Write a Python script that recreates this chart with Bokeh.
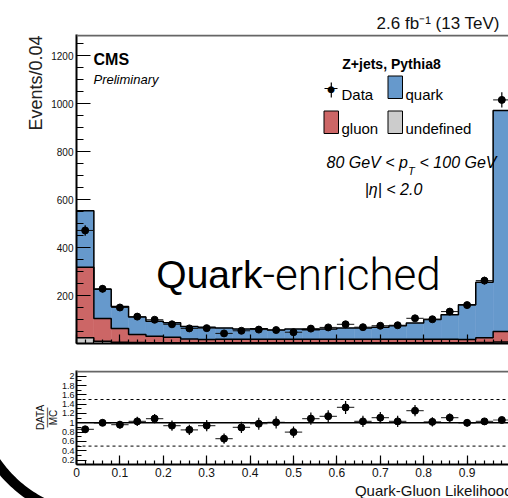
import urllib.parse
import numpy as np
from bokeh.plotting import figure
from bokeh.layouts import column
from bokeh.models import (Range1d, FixedTicker, Label, Span, BoxAnnotation,
                          Title, CustomJSTickFormatter)
from bokeh.embed import file_html
from bokeh.resources import INLINE

# ---- binning and yields (Z+jets, 80 < pT < 100 GeV, |eta| < 2.0) ----
bin_edges = [0.00, 0.04, 0.08, 0.12, 0.16, 0.20, 0.24, 0.28, 0.32, 0.36, 0.40,
             0.44, 0.48, 0.52, 0.56, 0.60, 0.64, 0.68, 0.72, 0.76, 0.80,
             0.84, 0.88, 0.92, 0.96, 1.00]
undefined_mc = [24, 9, 5, 4, 3, 3, 3, 3, 3, 3, 3, 3, 3, 3, 3, 3, 3, 3, 3, 3,
                3, 3, 3, 4, 6]
gluon_mc = [294, 95, 57, 33, 27, 23, 16, 14, 15, 15, 15, 15, 15, 15, 15, 15,
            15, 15, 15, 15, 15, 15, 14, 20, 44]
quark_mc = [235, 122, 92, 73, 63, 60, 52, 51, 47, 42, 43, 38, 42, 39, 42, 47,
            47, 50, 56, 67, 82, 102, 144, 231, 921]
data_counts = [471, 228, 150, 112, 99, 80, 63, 64, 42, 53, 58, 56, 47, 62, 67,
               80, 68, 74, 76, 105, 101, 133, 160, 262, 1015]
data_errors = [22, 15, 12, 11, 10, 9, 8, 8, 7, 7, 8, 7, 7, 8, 8, 9, 8, 9, 9,
               10, 10, 12, 13, 16, 32]
ratio_values = [0.86, 1.00, 0.96, 1.03, 1.09, 0.94, 0.85, 0.94, 0.66, 0.90,
                0.98, 1.01, 0.80, 1.09, 1.14, 1.33, 1.03, 1.11, 1.03, 1.26,
                1.02, 1.11, 1.00, 1.03, 1.06]
ratio_errors = [0.05, 0.07, 0.08, 0.10, 0.10, 0.11, 0.11, 0.12, 0.11, 0.12,
                0.13, 0.13, 0.12, 0.13, 0.13, 0.14, 0.12, 0.12, 0.12, 0.12,
                0.10, 0.09, 0.08, 0.06, 0.04]

x_major_ticks = [0.0, 0.1, 0.2, 0.3, 0.4, 0.5, 0.6, 0.7, 0.8, 0.9, 1.0]
main_y_ticks = [200, 400, 600, 800, 1000, 1200]
ratio_y_ticks = [0.2, 0.4, 0.6, 0.8, 1.0, 1.2, 1.4, 1.6, 1.8, 2.0]

BLUE = "#6699cc"
RED = "#cc6666"
GRAY = "#cccccc"
FONT = "Liberation Sans"

# ---- page geometry (pixels) ----
W = 508
LEFT = 76          # frame left edge
PX_PER_X = 434     # pixels per unit of likelihood
MAIN_H = 352
MAIN_TOP = 34
MAIN_BOTTOM = 343
PX_PER_EVT = 0.24
RATIO_H = 146
RATIO_TOP = 370
RATIO_BOTTOM = 464
RATIO_ONE = 422.3
PX_PER_RATIO = 46.6

x_end = (W - LEFT) / PX_PER_X
EMPTY = CustomJSTickFormatter(code="return '';")
ROUNDED = "return String(Math.round(tick * 10) / 10);"


def main_x(px):
    return (px - LEFT) / PX_PER_X


def main_y(py):
    return (MAIN_BOTTOM - py) / PX_PER_EVT


def ratio_y(py):
    return 1 + (RATIO_ONE - py) / PX_PER_RATIO


def text(fig, x, y, s, size, style="normal", align="left",
         baseline="alphabetic", font=FONT, color="black"):
    fig.add_layout(Label(x=x, y=y, text=s, text_font=font,
                         text_font_size=f"{size}px", text_font_style=style,
                         text_align=align, text_baseline=baseline,
                         text_color=color))


def box(fig, x0, x1, y0, y1, fill, line="black", width=1.0):
    fig.add_layout(BoxAnnotation(left=x0, right=x1, bottom=y0, top=y1,
                                 fill_color=fill, fill_alpha=1.0,
                                 line_color=line, line_width=width,
                                 line_alpha=1.0))


def style_axes(fig, xlabels, ytick_in, yminor_in, ylabel_size, top_px):
    fig.xgrid.visible = False
    fig.ygrid.visible = False
    fig.outline_line_color = None
    xa = fig.xaxis[0]
    xa.ticker = FixedTicker(ticks=x_major_ticks,
                            minor_ticks=[i * 0.02 for i in range(51)])
    xa.major_tick_in = 9
    xa.major_tick_out = 0
    xa.minor_tick_in = 4
    xa.minor_tick_out = 0
    xa.axis_line_width = 2
    xa.major_tick_line_width = 1.2
    xa.minor_tick_line_width = 1.2
    if xlabels:
        xa.formatter = CustomJSTickFormatter(code=ROUNDED)
        xa.major_label_text_font = FONT
        xa.major_label_text_font_size = "12px"
        xa.major_label_standoff = 3
        xa.major_label_text_color = "#111111"
    else:
        xa.formatter = EMPTY
        xa.major_label_text_font_size = "1px"
        xa.major_label_standoff = 0
    ya = fig.yaxis[0]
    ya.major_tick_in = ytick_in
    ya.major_tick_out = 0
    ya.minor_tick_in = yminor_in
    ya.minor_tick_out = 0
    ya.axis_line_width = 2
    ya.major_tick_line_width = 1.2
    ya.minor_tick_line_width = 1.2
    ya.major_label_text_font = FONT
    ya.major_label_text_font_size = ylabel_size
    ya.major_label_standoff = 3
    ya.major_label_text_color = "#111111"
    # grey upper edge of the frame
    fig.add_layout(Span(location=top_px, dimension="width",
                        line_color="#666666", line_width=2))


edges = np.array(bin_edges)
lo, hi = edges[:-1], edges[1:]
centers = (lo + hi) / 2
und = np.array(undefined_mc, dtype=float)
glu = np.array(gluon_mc, dtype=float)
qua = np.array(quark_mc, dtype=float)
data = np.array(data_counts, dtype=float)
derr = np.array(data_errors, dtype=float)
rat = np.array(ratio_values)
rerr = np.array(ratio_errors)

stack_und = und
stack_glu = und + glu
stack_qua = und + glu + qua

# ---- main panel ----
main = figure(width=W, height=MAIN_H, output_backend="svg",
              toolbar_location=None,
              x_range=Range1d(0, x_end),
              y_range=Range1d(0, (MAIN_BOTTOM - MAIN_TOP) / PX_PER_EVT),
              min_border_left=LEFT, min_border_right=0,
              min_border_top=MAIN_TOP, min_border_bottom=MAIN_H - MAIN_BOTTOM)
main.background_fill_color = "white"
main.border_fill_color = "white"

for bottom, top, color in ((0, stack_und, GRAY), (stack_und, stack_glu, RED),
                           (stack_glu, stack_qua, BLUE)):
    main.quad(left=lo, right=hi, bottom=bottom, top=top, fill_color=color,
              line_color=color, line_width=0.5)
for top in (stack_und, stack_glu, stack_qua):
    main.step(x=edges, y=np.append(top, top[-1]), mode="after",
              line_color="black", line_width=1.5)

main.segment(x0=lo, x1=hi, y0=data, y1=data, line_color="#111111",
             line_width=1)
main.segment(x0=centers, x1=centers, y0=data - derr, y1=data + derr,
             line_color="black", line_width=1.2)
main.scatter(centers, data, size=7, fill_color="black", line_color="black")

main.yaxis[0].ticker = FixedTicker(ticks=main_y_ticks,
                                   minor_ticks=[i * 50 for i in range(27)])
style_axes(main, False, 14, 7, "10px", main_y(MAIN_TOP + 1))

main.add_layout(Title(text="2.6 fb\u207b\u00b9  (13 TeV)", align="right",
                      text_font=FONT, text_font_size="17px",
                      text_font_style="normal", text_color="#111111",
                      standoff=4, offset=4),
                "above")
main.add_layout(Title(text="Events/0.04", align="right", text_font=FONT,
                      text_font_size="18px", text_font_style="normal",
                      text_color="#222222", standoff=6, offset=1), "left")

text(main, main_x(93), main_y(59), "CMS", 16, style="bold")
text(main, main_x(93), main_y(79), "Preliminary", 13, style="italic")
text(main, main_x(391), main_y(63), "Z+jets, Pythia8", 14, style="bold",
     align="center")

# legend
box(main, main_x(330.2), main_x(331.4), main_y(97), main_y(82), "black",
    line=None)
box(main, main_x(324), main_x(337), main_y(88.6), main_y(87.6), "black",
    line=None)
text(main, main_x(330.8), main_y(88), "\u25cf", 9, align="center",
     baseline="middle", font="DejaVu Sans")
text(main, main_x(341), main_y(94), "Data", 15)
box(main, main_x(387.5), main_x(402), main_y(98), main_y(75.5), BLUE)
text(main, main_x(405), main_y(94), "quark", 15)
box(main, main_x(323.5), main_x(338), main_y(133), main_y(110.5), RED)
text(main, main_x(341), main_y(128), "gluon", 15)
box(main, main_x(387.5), main_x(402), main_y(133), main_y(110.5), GRAY)
text(main, main_x(405), main_y(128), "undefined", 15)

text(main, main_x(326), main_y(162), "80 GeV < p", 16, style="italic")
text(main, main_x(407.5), main_y(170), "T", 11, style="italic")
text(main, main_x(496), main_y(162), "< 100 GeV", 16, style="italic",
     align="right")
text(main, main_x(393), main_y(189), "|\u03b7| < 2.0", 16, style="italic",
     align="center")

text(main, main_x(262), main_y(274), "Quark", 39, align="right")
text(main, main_x(262), main_y(274), "-enriched", 44, align="left",
     font="Roboto Light")

# ---- ratio panel ----
# dark curved stroke in the lower-left corner, painted behind the canvas
theta = np.linspace(np.radians(100), np.radians(172), 60)
cx, cy, r_out, r_in = 100.0, 390.0 - MAIN_H, 131.5, 121.5
ox = cx + r_out * np.cos(theta)
oy = cy + r_out * np.sin(theta)
ix = cx + r_in * np.cos(theta[::-1])
iy = cy + r_in * np.sin(theta[::-1])
pts = " ".join(f"{a:.1f},{b:.1f}" for a, b in
               zip(np.concatenate([ox, ix]), np.concatenate([oy, iy])))
stroke_svg = (f"<svg xmlns='http://www.w3.org/2000/svg' width='{W}' "
              f"height='{RATIO_H}'><polygon points='{pts}' fill='black'/>"
              "</svg>")
stroke_url = "data:image/svg+xml;charset=utf8," + urllib.parse.quote(stroke_svg)

ratio = figure(width=W, height=RATIO_H, output_backend="svg",
               toolbar_location=None,
               x_range=main.x_range,
               y_range=Range1d(ratio_y(RATIO_BOTTOM), ratio_y(RATIO_TOP)),
               min_border_left=LEFT, min_border_right=0,
               min_border_top=RATIO_TOP - MAIN_H,
               min_border_bottom=MAIN_H + RATIO_H - RATIO_BOTTOM,
               styles={"background-color": "white",
                       "background-image": f'url("{stroke_url}")',
                       "background-repeat": "no-repeat",
                       "background-position": "0px 0px"})
ratio.background_fill_color = "white"
ratio.border_fill_color = None

ratio.add_layout(Span(location=1.0, dimension="width", line_color="black",
                      line_width=1.5))
for loc in (0.5, 1.5):
    ratio.add_layout(Span(location=loc, dimension="width", line_color="black",
                          line_width=1, line_dash="3 3"))

ratio.segment(x0=lo, x1=hi, y0=rat, y1=rat, line_color="#444444",
              line_width=1.2)
ratio.segment(x0=centers, x1=centers, y0=rat - rerr, y1=rat + rerr,
              line_color="black", line_width=1.2)
ratio.scatter(centers, rat, size=7, fill_color="black", line_color="black")

ratio.yaxis[0].ticker = FixedTicker(
    ticks=ratio_y_ticks, minor_ticks=[round(0.1 * i, 1) for i in range(1, 22)])
ratio.yaxis[0].formatter = CustomJSTickFormatter(code=ROUNDED)
style_axes(ratio, True, 10, 5, "9px", ratio_y(RATIO_TOP + 1))

# DATA over MC, written as a stacked fraction
ry = ratio.yaxis[0]
ry.major_label_standoff = 2
ry.axis_label = "DATA\n\u2014\u2014\nMC"
ry.axis_label_text_font = FONT
ry.axis_label_text_font_size = "10px"
ry.axis_label_text_font_style = "normal"
ry.axis_label_text_color = "#111111"
ry.axis_label_text_line_height = 0.6
ry.axis_label_standoff = 0

ratio.add_layout(Title(text="Quark-Gluon Likelihood", align="right",
                       text_font=FONT, text_font_size="15px",
                       text_font_style="normal", text_color="#111111",
                       standoff=0, offset=-4),
                 "below")

layout = column(main, ratio, spacing=0)
open("out.html", "w").write(file_html(layout, INLINE))
